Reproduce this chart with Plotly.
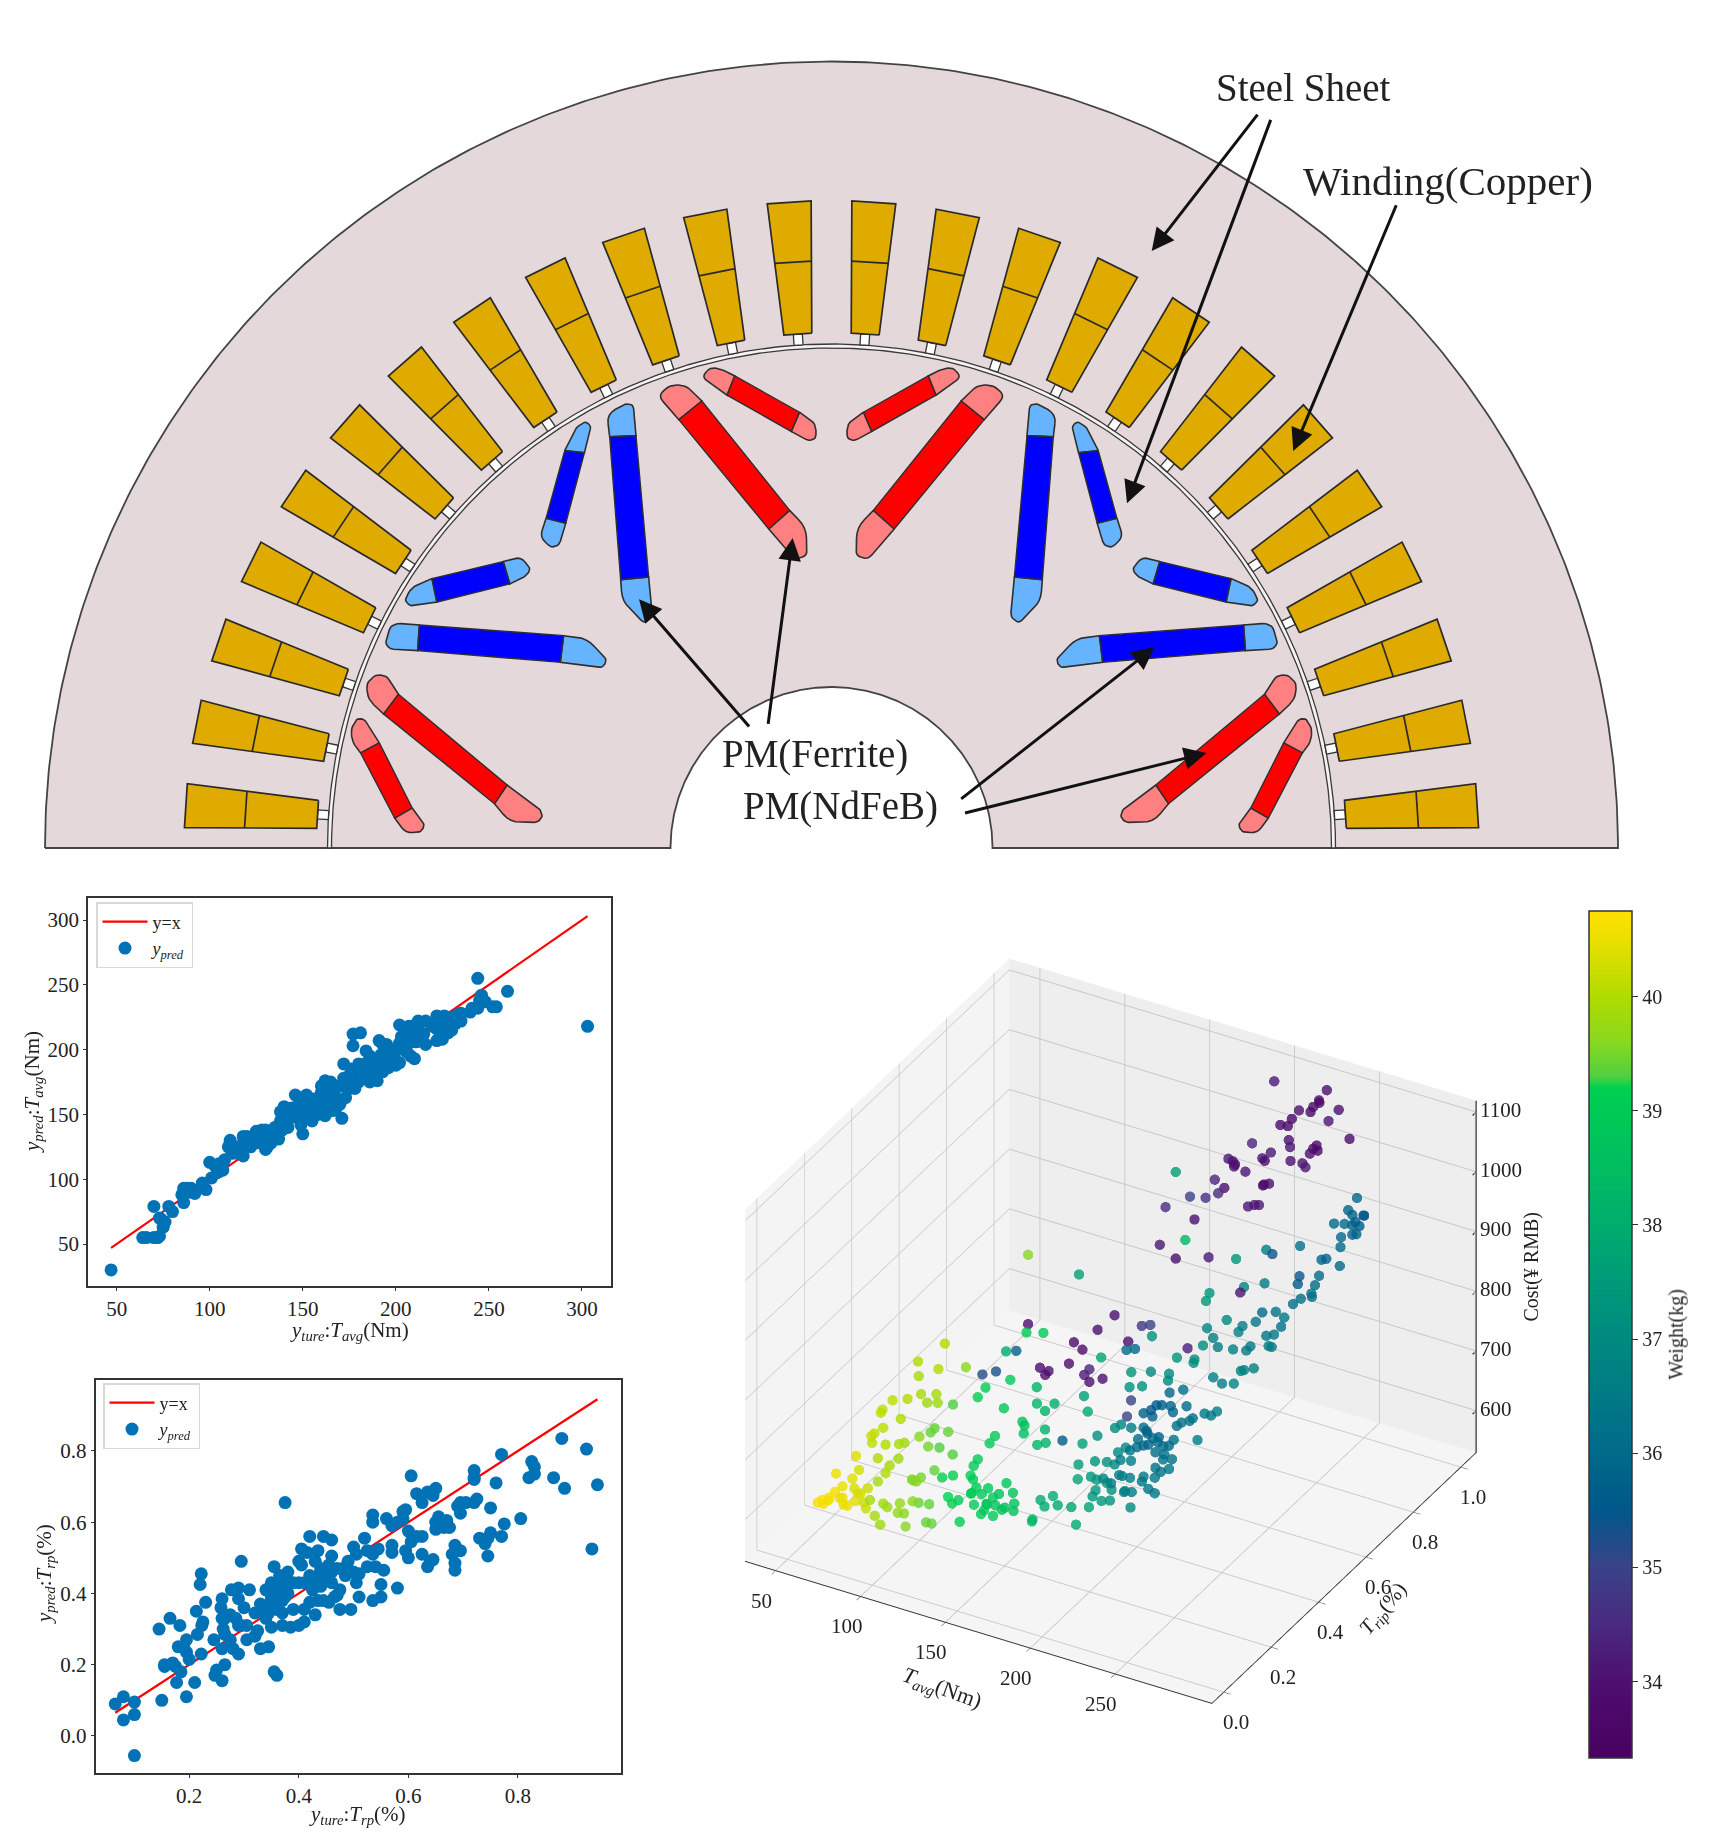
import numpy as np
import plotly.graph_objects as go

SERIF = "Liberation Serif"
BLUE = "#0072b5"

# ---------- scatter 1: average torque ----------
t_true = [47,303,244,260,246,245,254,252,248,244,240,241,235,233,235,232,229,226,222,225,223,220,228,228,225,222,226,216,212,210,209,206,202,203,208,211,213,214,216,211,207,204,202,208,210,206,199,197,195,193,191,194,192,198,202,200,196,193,190,188,190,186,184,182,180,183,186,184,177,177,181,172,178,176,180,175,173,172,170,173,171,166,162,168,170,167,168,165,162,160,165,163,160,161,158,155,154,152,150,146,148,152,155,150,149,146,143,148,144,141,138,140,142,139,137,135,138,133,130,128,125,123,120,118,118,118,122,125,128,130,131,127,133,114,111,110,112,115,116,108,107,105,103,100,105,101,104,107,98,96,92,90,88,86,85,86,88,90,80,78,70,73,74,76,75,64,66,70,72,73,155,158,160,162,164,166,168,163,157,160,175,178,176,182,185,188,190,192,195,198,200,205,205,207,212,215,222,224,227,230,234,230,145,147,152,150,143,141]
t_pred = [30,218,255,245,242,238,233,233,237,232,229,232,228,227,222,220,225,226,226,222,219,218,222,213,208,207,215,222,222,218,218,216,219,210,213,215,212,208,204,206,205,200,205,195,193,198,197,199,204,204,207,200,196,190,190,188,186,183,185,180,176,175,178,182,189,189,195,199,203,212,213,189,180,175,175,180,172,178,172,163,147,153,149,155,158,165,172,175,176,172,165,160,162,155,158,155,162,165,163,165,158,152,145,135,142,148,147,150,155,152,152,156,140,138,131,140,145,135,138,138,137,130,133,133,128,118,125,128,128,123,125,132,128,124,130,125,120,120,125,115,112,106,110,113,112,101,105,107,92,97,89,93,93,93,88,82,90,90,75,79,79,70,69,67,63,55,55,55,55,56,150,150,155,160,170,160,160,167,162,167,170,170,185,178,185,190,192,190,190,195,200,208,212,218,218,212,216,214,218,220,224,215,152,155,148,155,150,145]

# ---------- scatter 2: torque ripple ----------
r_true = [.065,.08,.08,.10,.10,.10,.15,.145,.165,.183,.155,.155,.17,.175,.177,.185,.195,.21,.18,.19,.195,.195,.2,.215,.213,.222,.22,.223,.225,.23,.222,.245,.247,.25,.26,.265,.26,.258,.26,.26,.262,.265,.275,.28,.29,.277,.29,.29,.295,.31,.265,.275,.285,.29,.3,.295,.305,.305,.32,.325,.32,.33,.33,.345,.34,.345,.345,.355,.34,.35,.36,.355,.365,.37,.38,.38,.375,.36,.37,.35,.37,.385,.39,.375,.355,.36,.40,.405,.405,.415,.435,.42,.445,.46,.43,.46,.40,.42,.43,.425,.44,.435,.445,.455,.41,.42,.43,.40,.41,.45,.46,.455,.47,.48,.485,.49,.50,.51,.505,.5,.505,.51,.47,.475,.495,.465,.475,.52,.525,.535,.545,.525,.54,.555,.535,.55,.55,.58,.57,.57,.535,.535,.56,.57,.58,.59,.59,.595,.60,.605,.615,.625,.595,.60,.625,.64,.645,.635,.605,.615,.635,.645,.65,.625,.65,.655,.66,.65,.665,.67,.675,.69,.72,.72,.72,.705,.72,.725,.695,.695,.685,.69,.695,.68,.685,.685,.73,.74,.745,.75,.745,.75,.76,.77,.77,.775,.805,.82,.825,.83,.83,.865,.88,.885,.925,.935,.945,.42,.43,.44,.41,.37,.38,.39,.36,.35,.34,.36,.33,.44,.45,.46]
r_pred = [.09,.11,.045,.095,.06,-.055,.10,.30,.33,.31,.20,.195,.205,.195,.15,.18,.11,.15,.25,.25,.27,.235,.215,.285,.35,.455,.425,.31,.32,.375,.23,.27,.17,.185,.155,.20,.245,.36,.385,.33,.30,.285,.27,.245,.23,.41,.415,.385,.49,.41,.33,.34,.33,.31,.36,.31,.31,.27,.28,.295,.345,.37,.245,.25,.33,.345,.37,.375,.41,.43,.43,.475,.45,.415,.43,.46,.39,.355,.345,.305,.31,.305,.355,.655,.18,.17,.49,.48,.525,.515,.52,.56,.56,.55,.49,.505,.43,.45,.44,.41,.42,.38,.38,.375,.355,.375,.34,.31,.32,.45,.43,.48,.47,.47,.45,.49,.46,.455,.43,.53,.51,.39,.395,.355,.355,.39,.41,.555,.52,.51,.525,.475,.475,.465,.38,.39,.425,.415,.515,.535,.60,.62,.61,.59,.60,.61,.63,.635,.575,.545,.56,.56,.52,.50,.51,.49,.495,.475,.73,.68,.685,.675,.695,.655,.60,.615,.59,.58,.585,.605,.585,.645,.745,.725,.72,.655,.655,.665,.625,.655,.535,.52,.52,.51,.485,.465,.555,.54,.555,.57,.505,.64,.71,.79,.56,.595,.61,.725,.77,.755,.735,.725,.835,.695,.805,.525,.705,.43,.42,.46,.43,.38,.40,.43,.41,.39,.36,.39,.35,.47,.47,.46]

# ---------- 3D scatter ----------
tavg_a = [58,60,55,62,57,60,63,59,61,60,62,58,64,60,60,59,61,60,62,60,61,60]
trip_a = [.07,.10,.11,.15,.15,.16,.18,.14,.21,.23,.21,.25,.23,.18,.08,.11,.14,.16,.20,.21,.26,.25]
cost_a = [606,600,593,576,593,601,609,629,634,602,572,553,541,561,602,600,590,582,563,579,561,540]
wt_a = [40.6,40.6,40.7,40.5,40.6,40.5,40.4,40.5,40.4,40.3,40.4,40.3,40.2,40.5,40.6,40.6,40.5,40.5,40.4,40.3,40.2,40.2]

tavg_b = [70,71,69,70,72,70,69,70,71,70,68,70,72,70,69,70,71,70,69,70,71,70,69,72,70,71]
trip_b = [.52,.40,.50,.41,.47,.42,.37,.30,.25,.25,.46,.49,.32,.26,.23,.21,.47,.46,.42,.35,.32,.27,.22,.52,.45,.49]
cost_b = [713,729,677,700,649,666,676,701,705,699,635,625,664,670,671,675,591,587,594,611,621,638,659,567,567,551]
wt_b = [40.0,40.0,40.0,39.9,39.9,39.9,40.0,40.1,40.1,40.1,39.8,39.8,40.0,40.1,40.1,40.2,39.4,39.4,39.6,39.8,39.9,40.0,40.1,39.4,39.5,39.3]

tavg_c = [95,96,94,95,93,95,96,94,95,97,95,94,95,96,95,94,95,93,95]
trip_c = [.43,.61,.52,.48,.39,.59,.67,.56,.53,.36,.48,.47,.45,.29,.24,.21,.33,.39,.46]
cost_c = [729,641,660,660,680,600,542,564,564,611,556,548,540,610,616,623,582,561,530]
wt_c = [39.6,39.0,39.1,39.2,39.3,38.9,38.7,39.0,39.0,39.3,39.0,39.0,39.1,39.4,39.5,39.5,39.2,39.2,39.0]

tavg_d = [125,124,126,125,125,123,125,126]
trip_d = [.24,.19,.15,.14,.06,.03,.07,.04]
cost_d = [616,622,633,647,665,677,629,643]
wt_d = [39.0,39.1,39.2,39.2,39.4,39.4,39.4,39.4]

tavg_e = [150,151,149,150,152,150,149,150,151,150,152,151,150,149,151,150,152,148,150,150,150,151,149,150,152,150,148,150,151,150]
trip_e = [.13,.20,.11,.15,.22,.24,.12,.15,.18,.01,.30,.31,.37,.38,.33,.28,.26,.35,.41,.37,.08,.05,.13,.20,.11,.10,.19,.16,.23,.07]
cost_e = [687,670,684,664,647,620,653,633,633,676,569,568,695,668,685,722,751,744,723,726,707,709,660,628,669,655,653,647,612,682]
wt_e = [38.9,38.8,38.9,38.8,38.7,38.6,38.9,38.9,38.8,39.1,38.3,38.3,38.1,38.1,38.3,38.5,38.6,38.3,38.0,38.2,39.0,39.0,38.8,38.7,38.9,38.9,38.7,38.8,38.6,39.0]

tavg_f = [185,186,184,185,187,185,184,185,186,185,184,186,185,187,185,184,185,186,185,184,186,185,184,185,186,185,184,185,186]
trip_f = [.10,.11,.18,.23,.29,.25,.16,.26,.25,.33,.32,.27,.34,.40,.44,.49,.46,.42,.38,.42,.33,.38,.34,.32,.35,.40,.40,.48,.45]
cost_f = [709,695,669,648,627,611,692,708,688,687,664,740,726,718,707,682,661,669,667,647,657,632,634,632,614,613,594,553,593]
wt_f = [38.0,38.0,37.9,37.8,37.7,37.9,38.0,37.6,37.7,37.3,37.4,37.6,37.2,37.0,36.9,36.7,36.9,37.0,37.2,37.0,37.4,37.3,37.4,37.4,37.4,37.2,37.3,37.0,37.0]

tavg_g = [215,216,214,215,217,215,214,216,215,214,216,215,214,215,216,214,215,216,215,214,216,215,214,215,216,214,215,216,214,215,216,215,214,216]
trip_g = [.32,.33,.34,.36,.37,.38,.41,.42,.34,.30,.29,.32,.27,.37,.40,.41,.44,.42,.37,.40,.36,.32,.27,.23,.21,.19,.34,.36,.32,.27,.23,.15,.23,.26]
cost_g = [773,760,759,740,740,726,707,706,737,747,766,743,753,713,699,685,675,667,687,668,675,691,707,726,736,728,663,649,682,684,700,752,752,741]
wt_g = [36.0,35.9,35.8,36.0,35.8,36.0,36.0,36.0,35.8,36.0,36.1,35.9,36.2,36.0,36.2,36.2,36.2,36.3,36.2,36.2,36.4,36.4,36.5,36.6,36.6,36.6,36.3,36.3,36.3,36.5,36.6,36.8,36.5,36.5]

tavg_h = [230,231,229,230,232,230,229,231,230,229,230,231,230,229,231,230,232,230,229,231]
trip_h = [.29,.32,.33,.38,.38,.42,.38,.40,.44,.36,.34,.33,.25,.22,.26,.16,.23,.47,.53,.49]
cost_h = [835,823,840,827,801,764,771,768,720,773,758,809,831,847,847,892,851,753,733,743]
wt_h = [35.6,35.8,35.8,36.1,36.0,36.2,36.2,36.3,36.5,36.1,36.2,35.9,35.7,35.7,35.5,35.0,35.5,36.4,36.5,36.4]

tavg_i = [190,191,189,190,192,190,189,191,190,189,190,191,190,189,190,191,189]
trip_i = [.53,.60,.61,.71,.70,.75,.80,.76,.85,.80,.83,.44,.44,.50,.64,.77,.77]
cost_i = [766,737,720,713,724,727,720,753,732,654,633,800,774,752,748,808,793]
wt_i = [37.0,37.0,36.9,37.2,37.1,37.1,36.7,36.9,36.9,36.6,36.6,37.3,37.2,37.2,37.3,37.4,37.4]

tavg_j = [250,251,249,250,252,250,249,251,250,249,250,251,250,249,251,250,249,250,251,250,249,250,251,250,249,250,251,250,249,250,251,250,249,250,251,250]
trip_j = [.47,.48,.50,.45,.52,.48,.39,.44,.52,.51,.61,.59,.57,.55,.62,.65,.67,.62,.58,.70,.74,.78,.77,.72,.80,.81,.72,.58,.50,.46,.58,.73,.62,.82,.89,.84]
cost_j = [907,914,831,828,829,838,911,890,864,860,829,839,902,893,885,848,855,846,860,867,860,849,859,893,860,873,907,947,970,1033,1004,953,980,896,860,890]
wt_j = [36.7,36.6,36.8,36.8,36.6,36.7,36.6,36.6,36.5,36.5,36.5,36.6,36.0,36.4,36.3,36.3,36.4,36.4,36.4,36.2,36.2,36.2,36.2,35.6,36.1,36.1,35.4,36.5,36.8,37.4,36.6,36.2,35.4,35.9,36.0,35.8]

tavg_k = [250,249,251,250,250,249,251,250,249,250,251,250,249,250]
trip_k = [.97,.94,.99,1.0,.95,.88,.91,.95,.97,.98,.96,.95,.91,.90]
cost_k = [943,933,907,902,922,933,923,905,902,892,887,889,899,887]
wt_k = [36.0,35.8,35.6,35.5,35.8,36.0,36.0,35.8,35.7,35.6,35.8,35.8,36.0,36.0]

tavg_m = [204,235,232,229,227,220,242,224,236,209,213,212,214,191,247,229,231,227,212,202,215,197,197,177,181,181,179,187,222,225,221,169,176,198,196,201,165,171,153,140,190,195,191,157,138,146,164,146,153,184]
trip_m = [.95,.95,.94,.96,.95,.94,.95,.96,.95,.94,.96,.95,.94,.95,.96,.95,.94,.95,.96,.95,.94,.95,.96,.95,.94,.95,.96,.95,.94,.95,.96,.95,.94,.95,.96,.95,.94,.95,.96,.95,.94,.95,.96,.95,.94,.95,.96,.95,.94,.95]
cost_m = [1106,1118,1098,1092,1083,1075,1091,1068,1067,1041,1047,1038,1020,991,1043,1020,1017,1013,999,985,986,971,963,953,956,947,938,940,988,1003,973,911,907,928,921,932,881,890,865,840,888,891,884,834,779,759,773,904,800,735]
wt_m = [34.2,33.9,33.7,33.7,33.8,33.9,34.0,33.8,34.1,33.8,33.7,33.7,34.0,34.4,33.7,33.7,33.7,33.8,34.1,34.2,34.0,34.1,33.9,34.2,34.0,33.9,34.0,34.1,34.0,34.0,34.2,34.4,34.0,33.9,33.8,33.9,34.6,34.5,35.0,34.5,34.1,34.2,34.1,34.0,34.2,34.0,34.2,37.6,38.3,34.1]

tavg_n = [59,110,100,86,91,118,126,131,117,122,132,153,73,120,118,125,127,130,130,135,60,68,60,66,65,75,96,66,130,152,150,215,170,120]
trip_n = [.95,.95,.95,.95,.95,.95,.95,.95,.95,.95,.95,.95,.90,.60,.60,.65,.70,.70,.70,.72,.75,.75,.85,.85,.90,.90,.90,.90,.75,.52,.55,.25,.30,.55]
cost_n = [574,633,600,567,559,596,629,635,581,587,617,615,532,680,672,678,642,654,633,635,566,578,567,573,584,592,708,715,655,696,657,818,720,672]
wt_n = [33.9,34.0,33.9,33.8,33.8,34.0,34.8,35.0,36.0,36.0,37.2,34.3,33.9,34.0,33.9,33.8,34.2,34.4,34.0,34.0,35.2,35.3,38.0,35.8,39.0,38.9,37.7,39.6,37.8,37.6,38.0,35.0,35.6,38.2]

tavg_p = [85,86,84,85,87,85,84,86,85,84,85,86,85,84,85,86,100]
trip_p = [.14,.11,.16,.17,.20,.24,.23,.27,.28,.30,.18,.21,.13,.17,.13,.09,.14]
cost_p = [566,593,593,584,565,547,567,557,587,577,650,651,681,640,642,627,576]
wt_p = [39.8,39.9,39.8,39.8,39.7,39.6,39.7,39.6,39.6,39.6,39.9,39.8,40.0,40.0,39.9,39.9,39.6]

tavg3 = tavg_a+tavg_b+tavg_c+tavg_d+tavg_e+tavg_f+tavg_g+tavg_h+tavg_i+tavg_j+tavg_k+tavg_m+tavg_n+tavg_p
trip3 = trip_a+trip_b+trip_c+trip_d+trip_e+trip_f+trip_g+trip_h+trip_i+trip_j+trip_k+trip_m+trip_n+trip_p
cost3 = cost_a+cost_b+cost_c+cost_d+cost_e+cost_f+cost_g+cost_h+cost_i+cost_j+cost_k+cost_m+cost_n+cost_p
wt3 = wt_a+wt_b+wt_c+wt_d+wt_e+wt_f+wt_g+wt_h+wt_i+wt_j+wt_k+wt_m+wt_n+wt_p

WT_MIN, WT_MAX = 33.33, 40.75
wt_stops = [33.33,34.0,34.5,35.0,35.5,36.0,36.5,37.0,37.5,38.0,38.5,39.2,39.3,39.6,40.0,40.5,40.75]
wt_colors = ["#4a0060","#4d0f70","#4a2a80","#3a4288","#00588a","#006a8a","#007a85","#008a80","#009a78","#00ad6e","#00bd60","#00d050","#50d040","#88d820","#b0dc00","#ecdf00","#ffe000"]
colorscale = [[(w-WT_MIN)/(WT_MAX-WT_MIN), c] for w, c in zip(wt_stops, wt_colors)]

# ---------- motor cross-section (drawing in page pixels) ----------
CX, CY = 831.5, 848.0
R_OUT, R_SHAFT, R_GAP_OUT, R_GAP_IN = 786.5, 161.0, 504.0, 500.0
SLOT_R0, SLOT_R1, SLOT_RM = 515.0, 647.0, 587.0
SLOT_W0, SLOT_W1 = 28.0, 44.0
NECK_W = 9.0
slot_angles = [3.75+7.5*k for k in range(24)]

# magnets: outline points (left half, mirrored on the right)
mag_light = [
 [[668,1205],[685,1188],[705,1190],[727,1225],[700,1262],[672,1235]],
 [[925,1395],[985,1440],[990,1455],[980,1465],[930,1465],[902,1430]],
 [[640,1290],[652,1270],[665,1272],[692,1316],[658,1335],[643,1315]],
 [[752,1438],[775,1470],[768,1483],[740,1485],[720,1457]],
 [[703,1130],[712,1098],[725,1092],[765,1095],[762,1143],[712,1140]],
 [[1028,1115],[1070,1120],[1107,1160],[1100,1175],[1022,1165]],
 [[738,1050],[750,1025],[788,1008],[797,1052],[750,1060]],
 [[918,976],[950,967],[968,990],[960,1003],[930,1018]],
 [[1107,700],[1140,680],[1155,682],[1160,740],[1112,742]],
 [[1132,1010],[1183,1005],[1190,1080],[1175,1092],[1135,1050]],
 [[1030,768],[1050,725],[1068,713],[1078,722],[1066,772]],
 [[996,895],[1032,904],[1020,945],[1005,950],[985,930]],
 [[1200,665],[1222,645],[1250,645],[1280,675],[1238,710]],
 [[1402,915],[1440,880],[1470,912],[1472,965],[1450,972]],
 [[1280,630],[1295,612],[1315,615],[1340,628],[1326,664]],
 [[1458,696],[1488,718],[1488,745],[1475,750],[1443,732]],
]
mag_dark = [
 [[727,1225],[925,1395],[902,1430],[700,1262]],
 [[692,1316],[752,1438],[720,1457],[658,1335]],
 [[765,1095],[1028,1115],[1022,1165],[762,1143]],
 [[788,1008],[918,976],[930,1018],[797,1052]],
 [[1112,742],[1160,740],[1183,1005],[1132,1010]],
 [[1030,768],[1066,772],[1032,904],[996,895]],
 [[1238,710],[1280,675],[1440,880],[1402,915]],
 [[1340,628],[1458,696],[1443,732],[1326,664]],
]
mag_light_red = [0,1,2,3,12,13,14,15]
mag_light_blue = [4,5,6,7,8,9,10,11]
mag_dark_red = [0,1,6,7]
mag_dark_blue = [2,3,4,5]
SX, SY = 1.823, 1.875
Y0 = 41.0
dark_corners = {tuple(p) for poly in mag_dark for p in poly}

def zoom_to_page(p):
    return p[0]/SX-0.3, Y0+p[1]/SY

def round_poly(poly, frac=0.45, n=5):
    out = []
    m = len(poly)
    for i, p in enumerate(poly):
        if tuple(p) in dark_corners:
            out.append(list(p)); continue
        a, b = np.array(poly[i-1], float), np.array(poly[(i+1) % m], float)
        c = np.array(p, float)
        la, lb = np.linalg.norm(a-c), np.linalg.norm(b-c)
        d = min(la, lb)*frac
        s, e = c+(a-c)/la*d, c+(b-c)/lb*d
        for t in np.linspace(0, 1, n):
            out.append(list((1-t)**2*s+2*t*(1-t)*c+t**2*e))
    return out

def poly_xy(polys, rounded=False):
    xs, ys = [], []
    for poly in polys:
        src = round_poly(poly) if rounded else poly
        pts = [zoom_to_page(p) for p in src]
        pts.append(pts[0])
        for x, y in pts:
            xs += [x]; ys += [y]
        xs.append(None); ys.append(None)
        for x, y in pts:
            xs += [2*CX-x]; ys += [y]
        xs.append(None); ys.append(None)
    return xs, ys

def radial_poly(a, r0, r1, w0, w1):
    th = np.radians(a)
    ux, uy = np.cos(th), -np.sin(th)
    nx, ny = -uy, ux
    xs = [CX+r0*ux+w0/2*nx, CX+r1*ux+w1/2*nx, CX+r1*ux-w1/2*nx, CX+r0*ux-w0/2*nx]
    ys = [CY+r0*uy+w0/2*ny, CY+r1*uy+w1/2*ny, CY+r1*uy-w1/2*ny, CY+r0*uy-w0/2*ny]
    return xs+[xs[0], None], ys+[ys[0], None]

fig = go.Figure()
XD, YD = "x3", "y3"
def add_fill(xs, ys, color, lw=1.4, lc="#333333"):
    fig.add_trace(go.Scatter(x=xs, y=ys, xaxis=XD, yaxis=YD, mode="lines", fill="toself",
                             fillcolor=color, line=dict(color=lc, width=lw), showlegend=False, hoverinfo="skip"))

ang = np.radians(np.linspace(180, 0, 361))
angr = ang[::-1]
sx = list(CX+R_OUT*np.cos(ang))+list(CX+R_SHAFT*np.cos(angr))
sy = list(CY-R_OUT*np.sin(ang))+list(CY-R_SHAFT*np.sin(angr))
add_fill(sx+[sx[0]], sy+[sy[0]], "#e4d8da", 1.8, "#444444")

# thin air-gap ring
rx = list(CX+R_GAP_OUT*np.cos(ang))+list(CX+R_GAP_IN*np.cos(angr))
ry = list(CY-R_GAP_OUT*np.sin(ang))+list(CY-R_GAP_IN*np.sin(angr))
add_fill(rx+[rx[0]], ry+[ry[0]], "#f6f2f2", 1.3, "#3a3a3a")

nx, ny, px, py, dx, dy = [], [], [], [], [], []
for a in slot_angles:
    x, y = radial_poly(a, R_GAP_OUT, SLOT_R0, NECK_W, NECK_W); nx += x; ny += y
    x, y = radial_poly(a, SLOT_R0, SLOT_R1, SLOT_W0, SLOT_W1); px += x; py += y
    wm = SLOT_W0+(SLOT_W1-SLOT_W0)*(SLOT_RM-SLOT_R0)/(SLOT_R1-SLOT_R0)
    x, y = radial_poly(a, SLOT_RM, SLOT_RM+0.01, wm, wm)
    dx += x[1:3]+[None]; dy += y[1:3]+[None]
add_fill(nx, ny, "#ffffff", 1.3, "#333333")
add_fill(px, py, "#dfab00", 1.7, "#2a2a2a")
fig.add_trace(go.Scatter(x=dx, y=dy, xaxis=XD, yaxis=YD, mode="lines", line=dict(color="#2a2a2a", width=1.7),
                         showlegend=False, hoverinfo="skip"))

add_fill(*poly_xy([mag_light[i] for i in mag_light_red], True), "#ff8080", 1.6, "#2f2f2f")
add_fill(*poly_xy([mag_light[i] for i in mag_light_blue], True), "#66b3ff", 1.6, "#2f2f2f")
add_fill(*poly_xy([mag_dark[i] for i in mag_dark_red]), "#ff0000", 1.4, "#2f2f2f")
add_fill(*poly_xy([mag_dark[i] for i in mag_dark_blue]), "#0000ff", 1.4, "#2f2f2f")

# ---------- 2D scatter panels ----------
def panel(xa, ya, xs, ys, lo, hi, legend):
    fig.add_trace(go.Scatter(x=[lo, hi], y=[lo, hi], xaxis=xa, yaxis=ya, mode="lines", name="y=x",
                             line=dict(color="#ff0000", width=2.2), legend=legend))
    fig.add_trace(go.Scatter(x=xs, y=ys, xaxis=xa, yaxis=ya, mode="markers", name="<i>y<sub>pred</sub></i>",
                             marker=dict(color=BLUE, size=13), legend=legend))

panel("x", "y", t_true, t_pred, 47, 303, "legend")
panel("x2", "y2", r_true, r_pred, 0.065, 0.945, "legend2")

# ---------- 3D scatter ----------
fig.add_trace(go.Scatter3d(x=tavg3, y=trip3, z=cost3, mode="markers", showlegend=False, scene="scene",
    marker=dict(size=6, color=wt3, colorscale=colorscale, cmin=WT_MIN, cmax=WT_MAX, opacity=0.8, line=dict(width=0),
        colorbar=dict(thicknessmode="pixels", thickness=43, lenmode="pixels", len=847,
                      x=1589/1712, xanchor="left", y=1-911/1834, yanchor="top", ypad=0, xpad=0,
                      outlinecolor="#333333", outlinewidth=1.5, ticks="outside", ticklen=6, tickcolor="#333333",
                      tickvals=[34,35,36,37,38,39,40], tickfont=dict(family=SERIF, size=20, color="#222222"),
                      title=dict(text="Weight(kg)", side="right", font=dict(family=SERIF, size=20, color="#222222"))))))

# z axis drawn at the right-hand back corner
T_LO, T_HI, TRIP_LO, TRIP_HI, Z_LO, Z_HI = 32, 307, -.05, 1.065, 530, 1119
t_ticks = [50,100,150,200,250]
trip_ticks = [0,.2,.4,.6,.8,1.0]
z_ticks = [600,700,800,900,1000,1100]
zl_x, zl_y, zl_z = [T_HI, T_HI], [TRIP_HI, TRIP_HI], [Z_LO, Z_HI]
for z in z_ticks:
    zl_x += [None, T_HI, T_HI]; zl_y += [None, TRIP_HI-.015, TRIP_HI+.03]; zl_z += [None, z, z]
fig.add_trace(go.Scatter3d(x=zl_x, y=zl_y, z=zl_z, mode="lines", line=dict(color="#333333", width=2.5),
                           showlegend=False, hoverinfo="skip", scene="scene"))

def frame(domain_x, rng, tickvals, anchor, fmt=None):
    return dict(domain=domain_x, range=rng, tickvals=tickvals, tickformat=fmt,
                showline=True, linecolor="#333333", linewidth=1.5, mirror=True, ticks="outside", ticklen=3,
                tickcolor="#333333", showgrid=False, zeroline=False, anchor=anchor,
                tickfont=dict(family=SERIF, size=21, color="#222222"))

W, H = 1712, 1834
def dx_(a, b): return [a/W, b/W]
def dy_(t, b): return [1-b/H, 1-t/H]

def axis3d(rng, tickvals, wall="#f4f4f4", ticks=True):
    return dict(title=dict(text=""), range=rng, tickvals=tickvals,
                showbackground=True, backgroundcolor=wall, gridcolor="#c8c8c8", gridwidth=2, showline=ticks, linecolor="#333333",
                linewidth=2, ticks="outside" if ticks else "", ticklen=8, tickcolor="#333333", zeroline=False, showspikes=False,
                showticklabels=False)

def s_note(text, x, y, z, xs, ys, angle=0, size=21, anchor="center"):
    return dict(x=x, y=y, z=z, text=text, showarrow=False, xanchor=anchor, yanchor="middle", xshift=xs, yshift=ys, textangle=angle,
                font=dict(family=SERIF, size=size, color="#222222"))

scene_notes = (
    [s_note(str(t), t, TRIP_LO, Z_LO, -14, -30) for t in t_ticks]
    + [s_note(f"{v:.1f}", T_HI, v, Z_LO, 12, -30) for v in trip_ticks]
    + [s_note(str(z), T_HI, TRIP_HI, z, 2, 2, anchor="left") for z in z_ticks]
    + [s_note("Cost(¥ RMB)", T_HI, TRIP_HI, 840, 55, 0, -90, 20)]
    + [s_note("<i>T<sub>avg</sub></i>(Nm)", 170, TRIP_LO, Z_LO, -37, -56, 20, 22)]
    + [s_note("<i>T<sub>rip</sub></i>(%)", T_HI, .5, Z_LO, 41, -29, -50, 21)]
)

layout = dict(
    width=W, height=H, margin=dict(l=0, r=0, t=0, b=0), paper_bgcolor="white", plot_bgcolor="rgba(0,0,0,0)",
    hovermode=False,
    xaxis=frame(dx_(88, 611), [34.6, 315.6], [50,100,150,200,250,300], "y"),
    yaxis=frame(dy_(898, 1286), [17.6, 317], [50,100,150,200,250,300], "x"),
    xaxis2=frame(dx_(95.5, 621), [.029, .988], [.2,.4,.6,.8], "y2", ".1f"),
    yaxis2=frame(dy_(1380, 1773), [-.104, .999], [0,.2,.4,.6,.8], "x2", ".1f"),
    xaxis3=dict(domain=[0,1], range=[0,W], visible=False, anchor="y3", fixedrange=True),
    yaxis3=dict(domain=[0,1], range=[H,0], visible=False, anchor="x3", fixedrange=True),
    legend=dict(x=96/W, y=1-902/H, xanchor="left", yanchor="top", bgcolor="white", bordercolor="#d8d8d8", borderwidth=1.5,
                itemwidth=45, font=dict(family=SERIF, size=18, color="#222222"), tracegroupgap=0),
    legend2=dict(x=103/W, y=1-1383/H, xanchor="left", yanchor="top", bgcolor="white", bordercolor="#d8d8d8", borderwidth=1.5,
                 itemwidth=45, font=dict(family=SERIF, size=18, color="#222222"), tracegroupgap=0),
    scene=dict(domain=dict(x=[0, 1], y=[0, 1]),
               xaxis=axis3d([T_LO, T_HI], t_ticks, wall="#f4f4f4"),
               yaxis=axis3d([TRIP_LO, TRIP_HI], trip_ticks, wall="#eeeeee"),
               zaxis=axis3d([Z_LO, Z_HI], z_ticks, wall="#f5f5f5", ticks=False),
               aspectmode="manual", aspectratio=dict(x=0.585, y=0.585, z=0.455),
               annotations=scene_notes,
               camera=dict(eye=dict(x=1.299, y=-2.858, z=2.529), center=dict(x=-0.361, y=0.074, z=0.381), up=dict(x=0, y=0, z=1),
                           projection=dict(type="orthographic"))),
)
fig.update_layout(**layout)

# ---------- axis titles of the 2D panels ----------
def title(text, x, y, angle=0):
    fig.add_annotation(xref="x3", yref="y3", x=x, y=y, text=text, showarrow=False, textangle=angle,
                       font=dict(family=SERIF, size=21, color="#222222"))
title("<i>y<sub>ture</sub></i>:<i>T<sub>avg</sub></i>(Nm)", 349, 1331)
title("<i>y<sub>pred</sub></i>:<i>T<sub>avg</sub></i>(Nm)", 33, 1092, -90)
title("<i>y<sub>ture</sub></i>:<i>T<sub>rp</sub></i>(%)", 357, 1815)
title("<i>y<sub>pred</sub></i>:<i>T<sub>rp</sub></i>(%)", 45, 1574, -90)

# ---------- labels & arrows of the drawing ----------
def note(text, x, y, size=40):
    fig.add_annotation(xref="x3", yref="y3", x=x, y=y, text=text, showarrow=False,
                       font=dict(family=SERIF, size=size, color="#222222"))
note("Steel Sheet", 1303, 87, 39)
note("Winding(Copper)", 1448, 181, 41)
note("PM(Ferrite)", 815, 754, 39)
note("PM(NdFeB)", 840, 806, 39)

arrow_tail = [(850+745/SX,40+137/SY),(850+768/SX,40+147/SY),(850+997/SX,40+307/SY),(1368/SX,40+1290/SY),(1400/SX,40+1285/SY),(850+200/SX,40+1425/SY),(850+207/SX,40+1450/SY)]
arrow_head = [(850+550/SX,42+392/SY),(850+505/SX,42+865/SY),(850+808/SX,43+765/SY),(1165/SX,42+1045/SY),(1445/SX,42+930/SY),(850+555/SX,42+1135/SY),(850+650/SX,42+1333/SY)]
for (tx, ty), (hx, hy) in zip(arrow_tail, arrow_head):
    fig.add_annotation(xref="x3", yref="y3", axref="x3", ayref="y3", x=hx, y=hy, ax=tx, ay=ty, text="",
                       showarrow=True, arrowhead=2, arrowsize=1.5, arrowwidth=3, arrowcolor="#111111")

fig.write_html("out.html", post_script="document.body.style.margin='0';", config={"displayModeBar": False})
